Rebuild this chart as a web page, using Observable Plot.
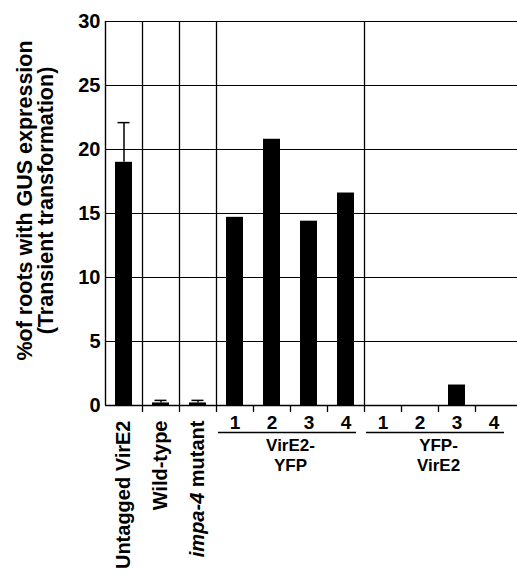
<!DOCTYPE html>
<html><head><meta charset="utf-8">
<script src="https://cdn.jsdelivr.net/npm/d3@7"></script>
<script src="https://cdn.jsdelivr.net/npm/@observablehq/plot@0.6"></script>
<style>
html,body{margin:0;padding:0;background:#fff;}
</style></head><body><div id="chart"></div>
<script>
// ---- data ----
const categories = ["Untagged VirE2","Wild-type","impa-4 mutant",
  "VirE2-YFP 1","VirE2-YFP 2","VirE2-YFP 3","VirE2-YFP 4",
  "YFP-VirE2 1","YFP-VirE2 2","YFP-VirE2 3","YFP-VirE2 4"];
const values = [19.0, 0.2, 0.2, 14.7, 20.8, 14.4, 16.6, 0, 0, 1.6, 0];
const errorTops = [22.1, 0.4, 0.4, null, null, null, null, null, null, null, null];
const rotatedLabels = ["Untagged VirE2","Wild-type","impa-4 mutant"];
const lineLabels = ["1","2","3","4","1","2","3","4"];
const groupNames = ["VirE2-YFP","YFP-VirE2"];
const groupLabels = ["VirE2-\nYFP","YFP-\nVirE2"];
const yTicks = [0,5,10,15,20,25,30];
const yTitle = "%of roots with GUS expression\n(Transient transformation)";

// ---- derived tables ----
const rows = categories.map((c,i)=>({cat:c, value:values[i], top:errorTops[i]}));
const barRows = rows.filter(d=>d.value>0);
const errRows = rows.filter(d=>d.top!=null);
const numberRows = categories.slice(3).map((c,i)=>({cat:c, label:lineLabels[i]}));
const groupRows = groupNames.map((g,i)=>({
  first: g+" 1", second: g+" 2", last: g+" 4", label: groupLabels[i]}));
const fullSeps = ["Wild-type","impa-4 mutant","VirE2-YFP 1","YFP-VirE2 1"];
const tickSeps = ["VirE2-YFP 2","VirE2-YFP 3","VirE2-YFP 4","YFP-VirE2 2","YFP-VirE2 3","YFP-VirE2 4"];

const W = 517, H = 573, ML = 105, XR = 512;
const bw = (XR - ML) / categories.length;

const chart = Plot.plot({
  width: W, height: H,
  marginLeft: ML, marginRight: 0, marginTop: 21, marginBottom: 168,
  style: {fontFamily: "'Liberation Sans', Arial, Helvetica, sans-serif", fontWeight: "bold", background: "#fff", color: "black"},
  x: {type: "band", domain: categories, range: [ML, XR], padding: 0, axis: null},
  y: {domain: [0, 30], axis: null},
  marks: [
    Plot.ruleY(yTicks.filter(t=>t>0), {y: d=>d, stroke: "black", strokeWidth: 1.2}),
    Plot.ruleX([categories[0]], {x: d=>d, dx: -bw/2, stroke: "black", strokeWidth: 1.4}),
    Plot.ruleX(fullSeps, {x: d=>d, dx: -bw/2, stroke: "black", strokeWidth: 1.3, insetBottom: -7}),
    Plot.ruleX(tickSeps, {x: d=>d, y1: ()=>0, y2: ()=>0, dx: -bw/2, stroke: "black", strokeWidth: 1.3, insetBottom: -7}),
    Plot.barY(barRows, {x: "cat", y: "value", fill: "black", insetLeft: 10, insetRight: 10}),
    Plot.ruleX(errRows, {x: "cat", y1: "value", y2: "top", stroke: "black", strokeWidth: 1.5}),
    Plot.tickY(errRows, {x: "cat", y: "top", stroke: "black", strokeWidth: 1.5, insetLeft: 12.5, insetRight: 12.5}),
    Plot.ruleY([0], {y: d=>d, stroke: "black", strokeWidth: 1.6}),
    Plot.axisY(yTicks, {tickSize: 0, tickPadding: 5, fontSize: 20, label: null, fill: "black"}),
    Plot.text([yTitle], {text: d=>d, frameAnchor: "left", textAnchor: "middle", rotate: -90, dx: -70, dy: -13, fontSize: 21.5, lineHeight: 0.98, fill: "black"}),
    Plot.text(rotatedLabels, {x: d=>d, y: ()=>0, text: d=>d, rotate: -90, textAnchor: "end", dy: 15, fontSize: 20, fill: "black"}),
    Plot.text(numberRows, {x: "cat", y: ()=>0, text: "label", dy: 17, fontSize: 19, fill: "black"}),
    Plot.ruleY(groupRows, {x1: "first", x2: "last", y: ()=>0, dy: 27, insetLeft: 2, insetRight: 8, stroke: "black", strokeWidth: 1.4}),
    Plot.text(groupRows, {x: "second", y: ()=>0, text: "label", dx: bw/2, dy: 49, fontSize: 17, lineHeight: 1.15, fill: "black"})
  ]
});

// italicise the gene name in "impa-4 mutant"
d3.select(chart).selectAll("text").filter(function(){ return this.textContent === "impa-4 mutant"; })
  .each(function(){
    const t = d3.select(this);
    t.text(null);
    t.append("tspan").attr("font-style", "italic").text("impa-4");
    t.append("tspan").text(" mutant");
  });

document.getElementById("chart").appendChild(chart);
</script>
</body></html>
